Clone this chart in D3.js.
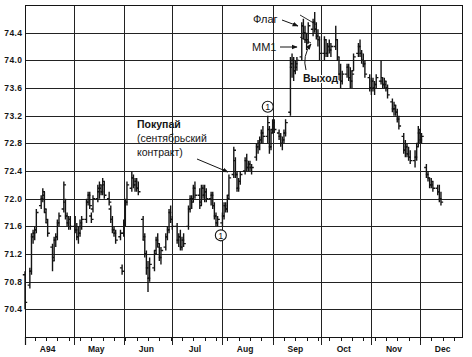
<!DOCTYPE html>
<html><head><meta charset="utf-8">
<script src="https://cdn.jsdelivr.net/npm/d3@7"></script>
<style>html,body{margin:0;padding:0;background:#fff;} svg{display:block;font-family:"Liberation Sans",Arial,sans-serif;}</style>
</head><body><svg id="c" width="472" height="357"></svg>
<script>
// ---- DATA (one line per trading week, starting Fri 1 Apr 1994) ----
const opens = [
70.9,
70.75,70.95,71.45,71.5,71.55,
71.9,72.0,72.05,71.8,71.65,
71.3,71.15,71.4,71.45,71.65,
71.85,71.95,71.75,71.65,71.7,
71.6,71.55,71.45,71.5,71.6,
71.7,71.95,72.05,71.75,71.85,
72.0,72.1,72.15,72.1,72.2,
72.0,71.85,71.7,71.55,71.5,
71.45,71.0,71.5,71.65,71.95,
72.15,72.3,72.2,72.25,72.15,
71.7,71.4,71.2,71.0,70.85,
71.0,71.25,71.4,71.3,71.15,
71.3,71.45,71.55,71.8,71.7,
71.6,71.4,71.45,71.3,71.4,
71.6,71.85,72.0,72.0,72.15,
72.05,71.95,72.15,72.05,72.1,
72.0,72.05,71.9,71.75,71.65,
71.65,71.75,71.9,71.85,72.05,
72.35,72.55,72.35,72.15,72.25,
72.4,72.55,72.45,72.5,72.45,
72.6,72.75,72.8,72.85,72.95,
72.9,73.0,72.75,73.0,73.1,
72.95,72.9,72.8,72.85,72.95,
73.25,73.9,74.0,73.85,73.9,
74.05,74.5,74.4,74.3,74.3,
74.45,74.55,74.45,74.35,74.3,
74.1,74.3,74.1,74.2,74.15,
74.2,74.3,74.0,73.8,73.7,
73.8,73.9,73.75,73.7,73.85,
74.1,74.2,74.1,74.0,73.95,
73.75,73.6,73.7,73.6,73.65,
73.7,73.7,73.65,73.65,73.6,
73.4,73.3,73.3,73.25,73.15,
72.9,72.7,72.75,72.65,72.6,
72.55,72.6,72.8,72.95,72.85,
72.45,72.35,72.3,72.2,72.2,
72.15,72.1,72.0];
const highs = [
70.95,
71.0,71.5,71.55,71.6,71.85,
72.05,72.15,72.1,71.85,71.7,
71.35,71.45,71.5,71.7,71.8,
72.25,72.0,71.8,71.75,71.75,
71.75,71.65,71.6,71.7,71.75,
72.0,72.1,72.1,71.8,72.05,
72.2,72.25,72.2,72.3,72.25,
72.1,71.9,71.75,71.6,71.55,
71.55,71.05,71.7,72.0,72.25,
72.4,72.35,72.3,72.3,72.25,
71.75,71.5,71.25,71.1,71.15,
71.25,71.45,71.5,71.35,71.3,
71.5,71.6,71.85,71.9,71.75,
71.65,71.5,71.55,71.45,71.5,
71.9,72.05,72.05,72.2,72.25,
72.15,72.2,72.2,72.2,72.15,
72.1,72.1,71.95,71.8,71.75,
71.8,71.95,71.95,72.05,72.35,
72.75,72.6,72.4,72.3,72.4,
72.6,72.65,72.55,72.55,72.5,
72.8,72.85,72.9,73.0,73.05,
73.2,73.05,73.0,73.15,73.15,
73.0,72.95,72.9,73.0,73.15,
74.05,74.1,74.05,74.0,74.05,
74.55,74.6,74.5,74.4,74.55,
74.6,74.7,74.55,74.45,74.35,
74.35,74.3,74.25,74.3,74.25,
74.5,74.3,74.05,73.95,73.85,
73.95,73.95,73.9,73.85,74.1,
74.25,74.3,74.15,74.1,74.0,
73.8,73.75,73.75,73.7,73.8,
74.0,73.75,73.75,73.7,73.65,
73.45,73.4,73.35,73.3,73.2,
72.95,72.85,72.8,72.75,72.7,
72.7,72.8,73.05,73.0,72.95,
72.5,72.4,72.3,72.3,72.25,
72.2,72.2,72.1];
const lows = [
70.4,
70.7,70.9,71.35,71.4,71.5,
71.85,71.95,71.8,71.65,71.45,
70.95,71.1,71.3,71.4,71.6,
71.8,71.7,71.6,71.55,71.55,
71.5,71.4,71.35,71.45,71.55,
71.65,71.9,71.85,71.65,71.8,
71.95,72.0,72.05,72.05,72.0,
71.9,71.65,71.5,71.45,71.35,
71.4,70.9,71.45,71.6,71.9,
72.1,72.15,72.1,72.1,72.05,
71.4,71.15,70.9,70.65,70.8,
70.95,71.2,71.3,71.1,71.05,
71.25,71.4,71.5,71.65,71.55,
71.35,71.3,71.25,71.25,71.3,
71.55,71.8,71.85,71.95,72.0,
71.85,71.9,72.0,71.95,71.95,
71.9,71.85,71.7,71.6,71.6,
71.6,71.7,71.8,71.8,72.0,
72.3,72.3,72.1,72.1,72.2,
72.35,72.4,72.4,72.4,72.35,
72.55,72.65,72.7,72.8,72.8,
72.8,72.65,72.7,72.95,72.95,
72.85,72.75,72.7,72.8,72.9,
73.2,73.75,73.7,73.8,73.85,
74.0,74.3,74.25,74.15,74.25,
74.35,74.4,74.3,74.2,74.0,
74.0,74.05,74.05,74.1,74.05,
74.15,74.0,73.7,73.6,73.65,
73.75,73.7,73.6,73.6,73.85,
74.05,74.05,73.95,73.9,73.75,
73.55,73.5,73.55,73.5,73.6,
73.65,73.6,73.6,73.55,73.45,
73.25,73.2,73.2,73.1,73.0,
72.65,72.6,72.6,72.55,72.5,
72.45,72.55,72.75,72.8,72.8,
72.3,72.25,72.15,72.15,72.1,
72.05,71.95,71.9];
const closes = [
70.5,
70.95,71.45,71.5,71.55,71.8,
72.0,72.1,71.85,71.7,71.5,
71.1,71.4,71.45,71.65,71.75,
72.2,71.75,71.65,71.7,71.6,
71.55,71.45,71.5,71.65,71.7,
71.95,72.05,71.9,71.7,72.0,
72.15,72.2,72.1,72.25,72.05,
71.95,71.7,71.55,71.5,71.4,
71.5,70.95,71.65,71.95,72.2,
72.3,72.2,72.25,72.15,72.1,
71.45,71.2,71.0,70.85,71.05,
71.2,71.4,71.35,71.15,71.25,
71.45,71.55,71.8,71.7,71.6,
71.4,71.45,71.3,71.4,71.35,
71.85,72.0,71.95,72.15,72.05,
71.9,72.15,72.05,72.1,72.0,
72.05,71.9,71.75,71.65,71.7,
71.75,71.9,71.85,72.0,72.3,
72.7,72.35,72.15,72.25,72.35,
72.55,72.45,72.5,72.45,72.45,
72.75,72.8,72.85,72.95,72.9,
73.1,72.75,72.95,73.1,73.0,
72.9,72.8,72.85,72.95,73.1,
73.95,74.0,73.85,73.95,74.0,
74.5,74.4,74.3,74.25,74.5,
74.55,74.45,74.35,74.3,74.1,
74.3,74.1,74.2,74.15,74.2,
74.3,74.05,73.8,73.7,73.8,
73.9,73.75,73.7,73.8,74.05,
74.2,74.1,74.0,73.95,73.8,
73.6,73.7,73.6,73.65,73.75,
73.75,73.65,73.7,73.6,73.5,
73.3,73.35,73.25,73.15,73.05,
72.7,72.75,72.65,72.6,72.55,
72.6,72.75,73.0,72.85,72.9,
72.35,72.3,72.2,72.25,72.15,
72.1,72.0,71.95];
const yTicks = [70.4,70.8,71.2,71.6,72.0,72.4,72.8,73.2,73.6,74.0,74.4];
const monthLabels = ["A94","May","Jun","Jul","Aug","Sep","Oct","Nov","Dec"];

// ---- SETUP ----
const svg = d3.select("#c");
const L=25, R=462, T=5, B=337;
const x = d3.scaleUtc().domain([new Date(Date.UTC(1994,3,1)), new Date(Date.UTC(1994,11,27))]).range([L,R]);
const y = d3.scaleLinear().domain([70.0,74.8]).range([B,T]);
const dates = d3.utcDay.range(new Date(Date.UTC(1994,3,1)), new Date(Date.UTC(1994,11,15)))
  .filter(d => d.getUTCDay()!==0 && d.getUTCDay()!==6);
const bars = dates.map((d,i)=>({d, o:opens[i], h:highs[i], l:lows[i], c:closes[i]})).filter(b=>b.o!==undefined);

const ink = "#141414";
// grid
const g = svg.append("g").attr("stroke", "#222").attr("stroke-width", 1).attr("shape-rendering","crispEdges");
g.selectAll("line.h").data(yTicks).join("line").attr("class","h")
  .attr("x1",L).attr("x2",R).attr("y1",d=>Math.round(y(d))+0.5).attr("y2",d=>Math.round(y(d))+0.5);
const monthStarts = d3.utcMonth.range(new Date(Date.UTC(1994,4,1)), new Date(Date.UTC(1994,11,2)));
g.selectAll("line.v").data(monthStarts).join("line").attr("class","v")
  .attr("x1",d=>Math.round(x(d))+0.5).attr("x2",d=>Math.round(x(d))+0.5).attr("y1",T).attr("y2",B+8);

// frame
svg.append("rect").attr("x",L+0.5).attr("y",T+0.5).attr("width",R-L).attr("height",B-T)
  .attr("fill","none").attr("stroke",ink).attr("stroke-width",1.4).attr("shape-rendering","crispEdges");
svg.append("line").attr("x1",L+0.5).attr("x2",L+0.5).attr("y1",B).attr("y2",B+8).attr("stroke",ink).attr("stroke-width",1.2);

// weekly ticks
const weeks = d3.utcThursday.range(new Date(Date.UTC(1994,3,1)), new Date(Date.UTC(1994,11,27)));
svg.append("g").attr("stroke",ink).attr("stroke-width",1).selectAll("line").data(weeks).join("line")
  .attr("x1",d=>Math.round(x(d))+0.5).attr("x2",d=>Math.round(x(d))+0.5).attr("y1",B).attr("y2",B+4);

// y labels
svg.append("g").attr("font-size","8.5px").attr("font-weight","bold").attr("fill",ink).attr("text-anchor","end")
  .selectAll("text").data(yTicks).join("text")
  .attr("x",22.5).attr("y",d=>y(d)+3).attr("letter-spacing","0.4px").text(d=>d.toFixed(1));

// month labels
const mids = d3.utcMonth.range(new Date(Date.UTC(1994,3,1)), new Date(Date.UTC(1995,0,1))).map(d=>new Date(Date.UTC(1994,d.getUTCMonth(),15)));
svg.append("g").attr("font-size","8.5px").attr("font-weight","bold").attr("fill",ink).attr("text-anchor","middle")
  .selectAll("text").data(monthLabels).join("text")
  .attr("x",(d,i)=>x(mids[i])).attr("y",352).text(d=>d);

// OHLC bars
svg.append("g").attr("stroke",ink).attr("stroke-width",1.4).attr("fill","none")
  .selectAll("path").data(bars).join("path")
  .attr("d",b=>{const X=x(b.d);return `M${X},${y(b.h)}V${y(b.l)}M${X-2.2},${y(b.o)}H${X}M${X},${y(b.c)}H${X+2.2}`;});

// arrow marker
const defs = svg.append("defs");
defs.append("marker").attr("id","ah").attr("viewBox","0 0 10 10").attr("refX",9).attr("refY",5)
  .attr("markerWidth",6).attr("markerHeight",6).attr("orient","auto-start-reverse").attr("markerUnits","userSpaceOnUse")
  .append("path").attr("d","M0,1L10,5L0,9Z").attr("fill",ink);

const ann = svg.append("g").attr("fill",ink);
const arrow = (d)=>ann.append("path").attr("d",d).attr("fill","none").attr("stroke",ink).attr("stroke-width",1).attr("marker-end","url(#ah)");

// Покупай
ann.append("text").attr("x",137).attr("y",128).attr("font-size","10.5px").attr("font-weight","bold").text("Покупай");
ann.append("text").attr("x",137).attr("y",142).attr("font-size","10.5px").text("(сентябрьский");
ann.append("text").attr("x",137).attr("y",156).attr("font-size","10.5px").text("контракт)");
arrow("M197,159L228,172");

// Флаг / ММ1 / Выход
ann.append("text").attr("x",253).attr("y",23).attr("font-size","11px").text("Флаг");
arrow("M282,20L298,26");
ann.append("text").attr("x",252).attr("y",51).attr("font-size","11px").text("ММ1");
arrow("M280,47L297,47");
ann.append("text").attr("x",303).attr("y",82).attr("font-size","10.5px").attr("font-weight","bold")
  .attr("stroke","#fff").attr("stroke-width",2).attr("paint-order","stroke").text("Выход");
arrow("M306,70Q302,56 311,44");
// flag boundary lines
ann.append("path").attr("d","M300,15L317,25M300,37L311,43").attr("stroke",ink).attr("stroke-width",0.9).attr("fill","none");

// circled 1 markers
[[x(new Date(Date.UTC(1994,6,31))), y(71.47)],[x(new Date(Date.UTC(1994,7,29))), y(73.33)]].forEach(([cx,cy])=>{
  ann.append("circle").attr("cx",cx).attr("cy",cy).attr("r",5.5).attr("fill","#fff").attr("stroke",ink).attr("stroke-width",1.1);
  ann.append("text").attr("x",cx).attr("y",cy+3.3).attr("text-anchor","middle").attr("font-size","9px").text("1");
});
</script></body></html>
